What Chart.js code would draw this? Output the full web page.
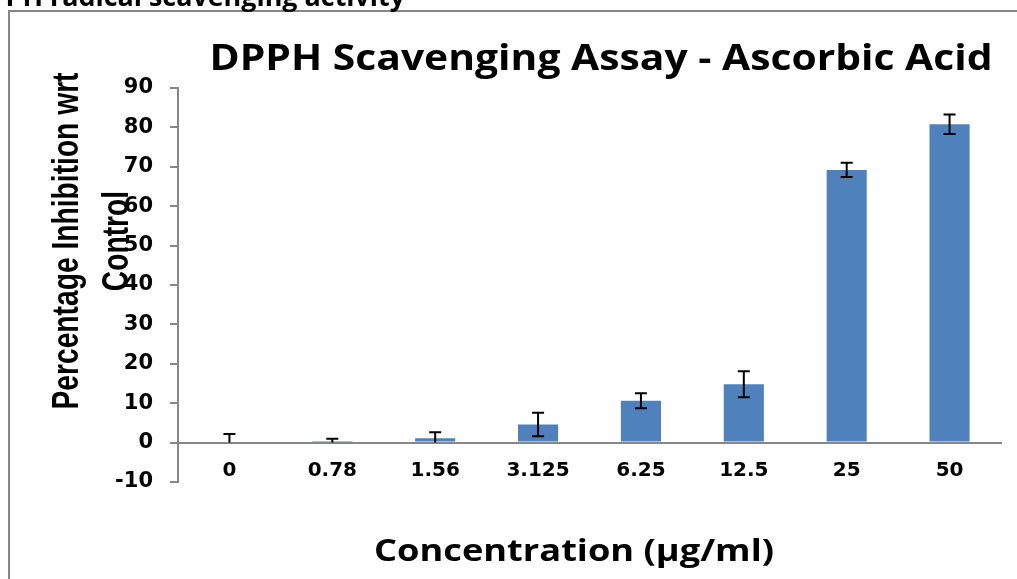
<!DOCTYPE html>
<html>
<head>
<meta charset="utf-8">
<script src="https://cdn.jsdelivr.net/npm/chart.js@4.4.1/dist/chart.umd.min.js"></script>
<style>
  html, body { margin: 0; padding: 0; background: #fff; overflow: hidden; }
  #wrap { position: relative; width: 1017px; height: 579px; }
  #frame {
    position: absolute; left: 8px; top: 10px; right: 0; bottom: 0;
    border-left: 2px solid #878787; border-top: 2px solid #878787;
  }
  canvas { position: absolute; left: 0; top: 0; }
</style>
</head>
<body>
<div id="wrap">
  <div id="frame"></div>
  <canvas id="chart" width="1017" height="579"></canvas>
</div>
<script>
// data
const concentrations = ['0', '0.78', '1.56', '3.125', '6.25', '12.5', '25', '50'];
const inhibition = [0, 0.4, 1.1, 4.6, 10.6, 14.8, 69.2, 80.8];
const errors = [2.2, 0.6, 1.5, 3.0, 1.9, 3.3, 1.8, 2.5];
const yMin = -10, yMax = 90, yStep = 10;

const heading = 'DPPH radical scavenging activity';
const chartTitle = 'DPPH Scavenging Assay - Ascorbic Acid';
const xTitle = 'Concentration (\u00b5g/ml)';
const yTitle = ['Percentage Inhibition wrt', 'Control'];

const axisGrey = '#878787';

// draw text stretched/squeezed to a given length (Excel squashed the picture)
function fitText(ctx, text, x, y, len, font, angle, sx) {
    ctx.save();
    ctx.font = font;
    ctx.fillStyle = '#000';
    ctx.textAlign = 'center';
    ctx.textBaseline = 'alphabetic';
    const w = ctx.measureText(text).width;
    const s = sx || len / w;
    ctx.translate(x, y);
    ctx.rotate(angle || 0);
    ctx.scale(s, 1);
    ctx.fillText(text, 0, 0);
    ctx.restore();
    return s;
}

/* error bars, lower end kept at the zero line like the original */
const errorBars = {
    id: 'errorBars',
    afterDatasetsDraw(chart) {
        const ctx = chart.ctx;
        const yScale = chart.scales.y;
        const meta = chart.getDatasetMeta(0);
        ctx.save();
        ctx.strokeStyle = '#000';
        ctx.lineWidth = 2;
        meta.data.forEach((bar, i) => {
            const v = inhibition[i], e = errors[i];
            const top = yScale.getPixelForValue(v + e);
            const bot = yScale.getPixelForValue(Math.max(0, v - e));
            const cap = 6;
            ctx.beginPath();
            ctx.moveTo(bar.x, top);
            ctx.lineTo(bar.x, bot);
            ctx.moveTo(bar.x - cap, top);
            ctx.lineTo(bar.x + cap, top);
            if (v - e > 0) {
                ctx.moveTo(bar.x - cap, bot);
                ctx.lineTo(bar.x + cap, bot);
            }
            ctx.stroke();
        });
        ctx.restore();
    }
};

/* titles + the cut-off page heading above the chart box */
const titles = {
    id: 'titles',
    afterDraw(chart) {
        const ctx = chart.ctx;
        // page heading: only its lower part is visible, start cut off on the left
        ctx.save();
        ctx.font = 'bold 26px "Open Sans"';
        const tail = ctx.measureText('radical scavenging activity').width;
        const hs = 355 / tail;
        ctx.translate(405, 6);
        ctx.scale(hs, 1);
        ctx.textAlign = 'right';
        ctx.fillStyle = '#000';
        ctx.fillText(heading, 0, 0);
        ctx.restore();

        fitText(ctx, chartTitle, 601, 70, 783, 'bold 35px "Open Sans"');
        fitText(ctx, xTitle, 574, 561, 400, 'bold 31px "Open Sans"');
        const f = 'bold 36px "Liberation Sans Narrow", "Liberation Sans"';
        const s = fitText(ctx, yTitle[0], 78, 241, 337, f, -Math.PI / 2);
        fitText(ctx, yTitle[1], 128, 241, 0, f, -Math.PI / 2, s);
    }
};

new Chart(document.getElementById('chart'), {
    type: 'bar',
    data: {
        labels: concentrations,
        datasets: [{
            data: inhibition,
            backgroundColor: '#4f81bd',
            categoryPercentage: 1,
            barPercentage: 0.39
        }]
    },
    options: {
        responsive: false,
        animation: false,
        layout: { padding: { left: 0, top: 88, right: 16, bottom: 97 } },
        plugins: { legend: { display: false }, tooltip: { enabled: false } },
        scales: {
            x: {
                position: { y: 0 },
                grid: { display: false, drawTicks: false },
                border: { color: axisGrey, width: 2 },
                ticks: {
                    padding: 16,
                    color: '#000',
                    font: { family: 'DejaVu Sans', size: 20, weight: 'bold' }
                }
            },
            y: {
                min: yMin,
                max: yMax,
                afterFit(scale) { scale.width = 178; },
                grid: {
                    drawOnChartArea: false,
                    tickLength: 8,
                    tickColor: axisGrey,
                    lineWidth: 2
                },
                border: { color: axisGrey, width: 2 },
                ticks: {
                    stepSize: yStep,
                    padding: 17,
                    color: '#000',
                    font: { family: 'DejaVu Sans', size: 21, weight: 'bold' }
                }
            }
        }
    },
    plugins: [errorBars, titles]
});
</script>
</body>
</html>
